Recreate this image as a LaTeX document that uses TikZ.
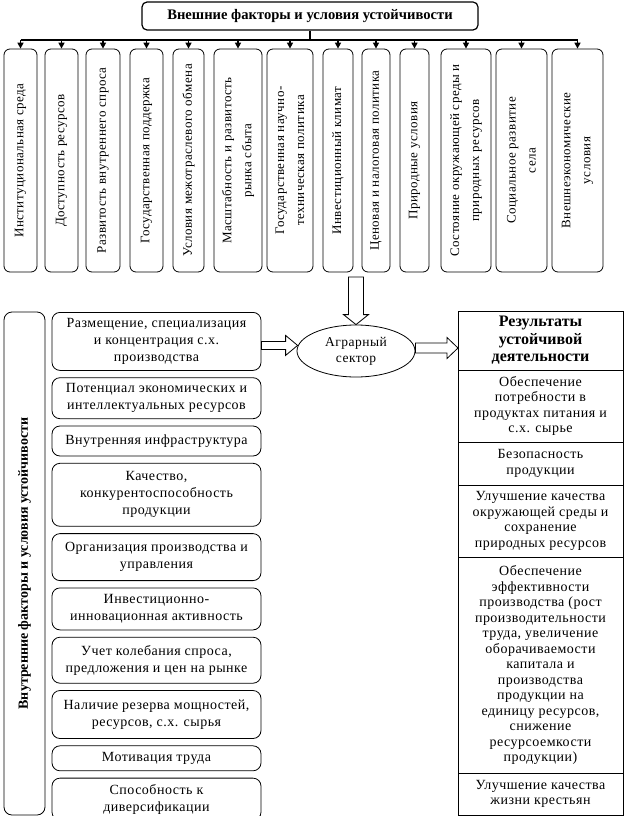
\documentclass[tikz,border=0pt]{standalone}
\usepackage{fontspec}
\setmainfont{Liberation Serif}
\newfontfamily\wide[LetterSpace=3.5]{Liberation Serif}
\usetikzlibrary{arrows.meta,positioning,shapes.geometric,calc}

\begin{document}
\begin{tikzpicture}[
x=1pt, y=-1pt,
node distance=6.5pt,
title/.style={
draw,
rounded corners=5pt,
line width=1.2pt,
minimum width=336pt,
minimum height=28pt,
font=\fontsize{14.6}{16}\selectfont\bfseries
},
ext/.style={
draw,
rotate=90,
rounded corners=6pt,
align=center,
inner sep=1pt,
minimum width=223pt,
line width=0.8pt,
font=\wide\fontsize{13}{20}\selectfont
},
inner/.style={
draw,
rounded corners=8pt,
align=center,
inner sep=1pt,
minimum width=209pt,
line width=0.8pt,
font=\wide\fontsize{14}{17}\selectfont
},
res/.style={
draw,
align=center,
inner sep=1pt,
outer sep=0pt,
minimum width=165pt,
line width=0.8pt,
font=\wide\fontsize{14}{15.5}\selectfont
},
arr/.style={-{Triangle[length=6pt,width=6pt]}, line width=1.5pt},
hollow/.style={draw, fill=white, line width=0.8pt}
]
\useasboundingbox (0,0) rectangle (627,816);

% external factors
\node[title] (ext) at (310,16) {Внешние факторы и условия устойчивости};
\coordinate (bus) at (310,40);

\node[ext, minimum height=33pt] (b1) at (20.5,160.5) {Институциональная среда};
\node[ext, minimum height=33pt] (b2) at (61.5,160.5) {Доступность ресурсов};
\node[ext, minimum height=34pt] (b3) at (103,160.5) {Развитость внутреннего спроса};
\node[ext, minimum height=33pt] (b4) at (146.5,160.5) {Государственная поддержка};
\node[ext, minimum height=31pt] (b5) at (188.5,160.5) {Условия межотраслевого обмена};
\node[ext, minimum height=48pt] (b6) at (238,160.5) {Масштабность и развитость\\рынка сбыта};
\node[ext, minimum height=46pt] (b7) at (290,160.5) {Государственная научно-\\техническая политика};
\node[ext, minimum height=30pt] (b8) at (338,160.5) {Инвестиционный климат};
\node[ext, minimum height=28pt] (b9) at (376,160.5) {Ценовая и налоговая политика};
\node[ext, minimum height=29pt] (b10) at (414.5,160.5) {Природные условия};
\node[ext, minimum height=50pt] (b11) at (466,160.5) {Состояние окружающей среды и\\природных ресурсов};
\node[ext, minimum height=51pt] (b12) at (521.5,160.5) {Социальное развитие\\села};
\node[ext, minimum height=51pt] (b13) at (577.5,160.5) {Внешнеэкономические\\условия};

% bus
\draw[line width=1.5pt] (ext.south) -- (bus);
\draw[line width=1.8pt] (b1.east |- bus) -- (b13.east |- bus);
\foreach \i in {1,...,13}
\draw[arr] (b\i.east |- bus) -- (b\i.east);

% internal factors
\node[draw, rotate=90, rounded corners=8pt, minimum width=503pt, minimum height=41pt,
line width=0.8pt, font=\fontsize{14}{16}\selectfont\bfseries] (int) at (24.5,563.5)
{Внутренние факторы и условия устойчивости};

\node[inner, anchor=north, minimum height=58pt] (l1) at (156.5,312)
{Размещение, специализация\\и концентрация с.х.\\производства};
\node[inner, below=of l1, minimum height=41pt] (l2)
{Потенциал экономических и\\интеллектуальных ресурсов};
\node[inner, below=of l2, minimum height=30pt] (l3)
{Внутренняя инфраструктура};
\node[inner, below=of l3, minimum height=63pt] (l4)
{Качество,\\конкурентоспособность\\продукции};
\node[inner, below=of l4, minimum height=47pt] (l5)
{Организация производства и\\управления};
\node[inner, below=of l5, minimum height=42pt] (l6)
{Инвестиционно-\\инновационная активность};
\node[inner, below=of l6, minimum height=46pt] (l7)
{Учет колебания спроса,\\предложения и цен на рынке};
\node[inner, below=of l7, minimum height=48pt] (l8)
{Наличие резерва мощностей,\\ресурсов, с.х. сырья};
\node[inner, below=of l8, minimum height=25pt] (l9)
{Мотивация труда};
\node[inner, below=of l9, minimum height=42pt] (l10)
{Способность к\\диверсификации};

% agrarian sector
\node[draw, ellipse, minimum width=118pt, minimum height=52pt, inner sep=0pt,
align=center, line width=0.8pt, font=\wide\fontsize{13.5}{16}\selectfont] (agr) at (356,351)
{Аграрный\\сектор};
\coordinate (dtop) at (356,277);

% results
\node[res, anchor=north, minimum height=59pt, font=\fontsize{16}{17.5}\selectfont\bfseries] (r0) at (540.5,311)
{Результаты\\устойчивой\\деятельности};
\node[res, below=0pt of r0, minimum height=72pt] (r1)
{Обеспечение\\потребности в\\продуктах питания и\\с.х. сырье};
\node[res, below=0pt of r1, minimum height=43pt] (r2)
{Безопасность\\продукции};
\node[res, below=0pt of r2, minimum height=72pt] (r3)
{Улучшение качества\\окружающей среды и\\сохранение\\природных ресурсов};
\node[res, below=0pt of r3, minimum height=216pt] (r4)
{Обеспечение\\эффективности\\производства (рост\\производительности\\труда, увеличение\\оборачиваемости\\капитала и\\производства\\продукции на\\единицу ресурсов,\\снижение\\ресурсоемкости\\продукции)};
\node[res, below=0pt of r4, minimum height=42pt] (r5)
{Улучшение качества\\жизни крестьян};

% block arrows
\draw[hollow] let \p1=(dtop), \p2=(agr.north) in
(\x1-7.5pt,\y1) -- (\x1-7.5pt,\y2+10pt) -- (\x1-12.5pt,\y2+10pt) -- (\x2,\y2)
-- (\x1+12.5pt,\y2+10pt) -- (\x1+7.5pt,\y2+10pt) -- (\x1+7.5pt,\y1) -- cycle;
\draw[hollow] let \p1=(l1.east), \p2=(agr.west) in
(\x1,\y1-0pt) -- (\x2-11pt,\y1-0pt) -- (\x2-11pt,\y1+6pt) -- (\x2+1pt,\y1-4pt)
-- (\x2-11pt,\y1-14pt) -- (\x2-11pt,\y1-8pt) -- (\x1,\y1-8pt) -- cycle;
\draw[hollow] let \p1=(agr.east), \p2=(r0.west) in
(\x1,\y1+8pt) -- (\x2-11pt,\y1+8pt) -- (\x2-11pt,\y1+13.5pt) -- (\x2,\y1+3pt)
-- (\x2-11pt,\y1-7.5pt) -- (\x2-11pt,\y1-2pt) -- (\x1,\y1-2pt) -- cycle;

\end{tikzpicture}
\end{document}
